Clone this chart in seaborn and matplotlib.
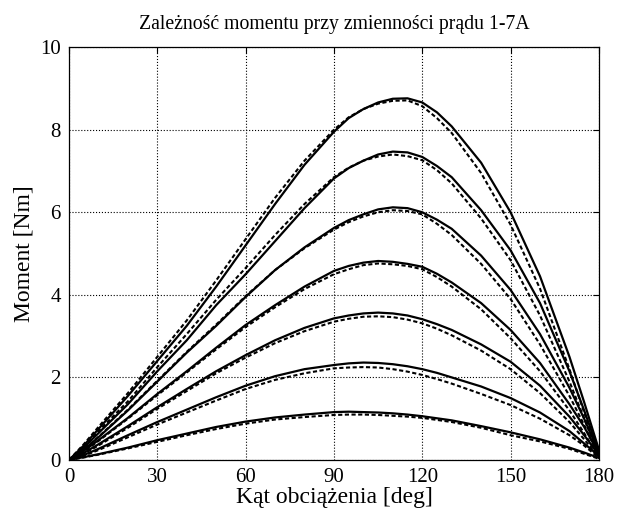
import pandas as pd
import seaborn as sns
import matplotlib.pyplot as plt

# kąt obciążenia [deg]
kat = [0, 5, 10, 20, 30, 40, 50, 60, 70, 80, 90, 95, 100, 105, 110, 115, 120, 125,
       130, 140, 150, 160, 170, 175, 180]

# linie ciągłe (1A .. 7A)
s1 = [0, 0.07, 0.14, 0.30, 0.48, 0.64, 0.80, 0.93, 1.03, 1.10, 1.16, 1.17, 1.16, 1.15, 1.13, 1.10, 1.06, 1.01,
      0.96, 0.82, 0.67, 0.50, 0.30, 0.18, 0.05]
s2 = [0, 0.12, 0.27, 0.60, 0.92, 1.22, 1.52, 1.80, 2.03, 2.20, 2.30, 2.34, 2.36, 2.35, 2.32, 2.27, 2.20, 2.11,
      2.00, 1.78, 1.50, 1.15, 0.70, 0.40, 0.10]
s3 = [0, 0.17, 0.38, 0.82, 1.28, 1.72, 2.15, 2.54, 2.90, 3.20, 3.43, 3.50, 3.55, 3.57, 3.55, 3.50, 3.41, 3.29,
      3.15, 2.80, 2.38, 1.80, 1.05, 0.60, 0.12]
s4 = [0, 0.22, 0.48, 1.02, 1.60, 2.15, 2.72, 3.27, 3.75, 4.20, 4.58, 4.70, 4.78, 4.82, 4.80, 4.75, 4.68, 4.51,
      4.30, 3.80, 3.15, 2.35, 1.35, 0.80, 0.15]
s5 = [0, 0.25, 0.55, 1.20, 1.90, 2.60, 3.25, 3.95, 4.60, 5.15, 5.62, 5.81, 5.95, 6.07, 6.12, 6.10, 6.00, 5.82,
      5.60, 4.95, 4.12, 3.05, 1.75, 1.00, 0.18]
s6 = [0, 0.30, 0.65, 1.35, 2.15, 2.90, 3.75, 4.50, 5.30, 6.10, 6.82, 7.07, 7.25, 7.40, 7.47, 7.45, 7.34, 7.12,
      6.85, 6.05, 5.08, 3.80, 2.15, 1.20, 0.20]
s7 = [0, 0.35, 0.75, 1.55, 2.40, 3.25, 4.20, 5.20, 6.20, 7.15, 7.95, 8.28, 8.50, 8.66, 8.75, 8.76, 8.66, 8.42,
      8.08, 7.20, 6.00, 4.45, 2.50, 1.40, 0.25]

# linie kropkowane (1A .. 7A)
d1 = [0, 0.06, 0.13, 0.28, 0.44, 0.60, 0.75, 0.88, 0.98, 1.04, 1.09, 1.10, 1.10, 1.09, 1.07, 1.05, 1.02, 0.97,
      0.92, 0.78, 0.60, 0.45, 0.27, 0.15, 0.03]
d2 = [0, 0.10, 0.24, 0.55, 0.86, 1.15, 1.44, 1.72, 1.94, 2.10, 2.22, 2.24, 2.25, 2.24, 2.20, 2.14, 2.06, 1.96,
      1.85, 1.60, 1.33, 1.00, 0.60, 0.35, 0.05]
d3 = [0, 0.15, 0.35, 0.78, 1.24, 1.67, 2.10, 2.48, 2.83, 3.12, 3.35, 3.42, 3.47, 3.48, 3.46, 3.40, 3.31, 3.18,
      3.02, 2.65, 2.20, 1.62, 0.92, 0.50, 0.06]
d4 = [0, 0.20, 0.46, 1.00, 1.57, 2.12, 2.68, 3.22, 3.70, 4.14, 4.50, 4.62, 4.72, 4.76, 4.74, 4.70, 4.62, 4.43,
      4.20, 3.65, 2.95, 2.15, 1.20, 0.65, 0.07]
d5 = [0, 0.25, 0.56, 1.22, 1.92, 2.62, 3.28, 3.97, 4.60, 5.13, 5.58, 5.76, 5.90, 6.00, 6.05, 6.03, 5.95, 5.72,
      5.45, 4.75, 3.90, 2.80, 1.55, 0.85, 0.08]
d6 = [0, 0.32, 0.70, 1.42, 2.25, 3.05, 3.88, 4.65, 5.45, 6.20, 6.85, 7.08, 7.25, 7.35, 7.40, 7.36, 7.26, 7.02,
      6.70, 5.85, 4.84, 3.50, 1.90, 1.00, 0.10]
d7 = [0, 0.38, 0.80, 1.62, 2.50, 3.38, 4.35, 5.35, 6.35, 7.25, 8.00, 8.30, 8.50, 8.63, 8.70, 8.71, 8.57, 8.28,
      7.92, 6.95, 5.70, 4.15, 2.20, 1.15, 0.10]

ciagle = [s1, s2, s3, s4, s5, s6, s7]
kropki = [d1, d2, d3, d4, d5, d6, d7]

sns.set_style('white')
plt.rcParams['font.family'] = ['Liberation Serif', 'DejaVu Serif']
plt.rcParams['font.size'] = 15
plt.rcParams['text.color'] = 'black'
plt.rcParams['axes.labelcolor'] = 'black'

fig = plt.figure(figsize=(6.19, 5.18), dpi=100)
ax = fig.add_axes([0.1115, 0.112, 0.856, 0.797])

for i in range(7):
    sns.lineplot(x=kat, y=ciagle[i], color='black', linewidth=1.6, ax=ax)
    sns.lineplot(x=kat, y=kropki[i], color='black', linewidth=1.5,
                 linestyle=(0, (2.0, 1.2)), ax=ax)

ax.set_xlim(0, 180)
ax.set_ylim(0, 10)
ax.set_xticks([0, 30, 60, 90, 120, 150, 180])
ax.set_yticks([0, 2, 4, 6, 8, 10])
ax.grid(True, color='black', linestyle=':', linewidth=0.8)
ax.tick_params(direction='in', length=4, width=0.8, colors='black', labelsize=15,
               top=True, right=True, pad=6)
for sp in ax.spines.values():
    sp.set_color('black')
    sp.set_linewidth(0.9)

ax.set_title('Zależność momentu przy zmienności prądu 1-7A', fontsize=14.2, pad=13, color='black')
ax.set_xlabel('Kąt obciążenia [deg]', fontsize=17, labelpad=0)
ax.set_ylabel('Moment [Nm]', fontsize=17, labelpad=4)

fig.savefig('out.png', dpi=100)
